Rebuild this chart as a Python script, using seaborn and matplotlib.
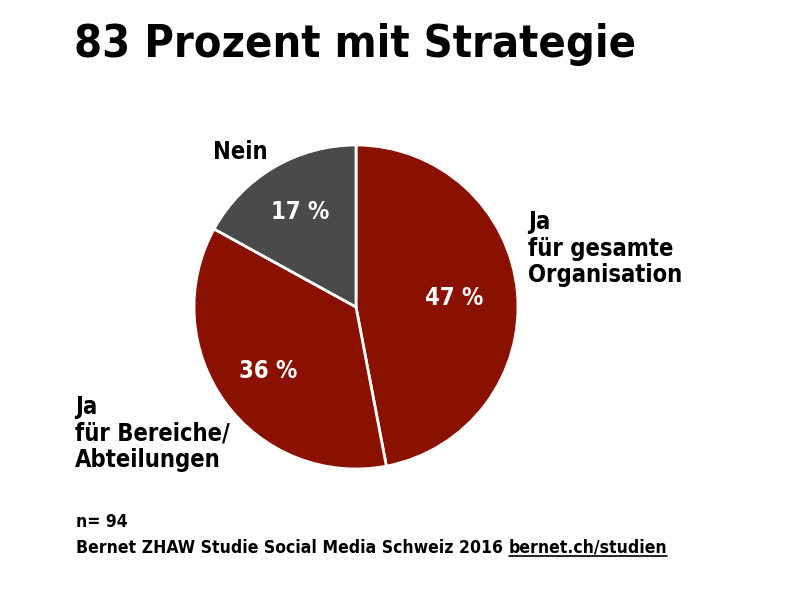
import matplotlib
matplotlib.use("Agg")
import matplotlib.pyplot as plt
import seaborn as sns
import numpy as np
from matplotlib.lines import Line2D

categories = ["Ja\nfür gesamte\nOrganisation", "Ja\nfür Bereiche/\nAbteilungen", "Nein"]
values = [47, 36, 17]
pct_labels = ["47 %", "36 %", "17 %"]
colors = ["#8a1100", "#8a1100", "#4a4a4a"]
title = "83 Prozent mit Strategie"
note = "n= 94"
source = "Bernet ZHAW Studie Social Media Schweiz 2016 "
link = "bernet.ch/studien"

sns.set_theme(style="white")
FONT = ["DejaVu Sans"]
plt.rcParams["font.family"] = FONT
plt.rcParams["font.weight"] = "bold"
plt.rcParams["font.stretch"] = "condensed"

W, H = 800, 597
fig = plt.figure(figsize=(W / 100, H / 100), dpi=100)
fig.patch.set_facecolor("white")

def px(x, y):
    return x / W, 1 - y / H

TK = dict(fontweight="bold", fontstretch="condensed", color="black")

# pie axes: center (356,307), radius 162
ax = fig.add_axes([194 / W, (H - 469) / H, 324 / W, 324 / H])
wedges, _ = ax.pie(values, colors=colors, startangle=90, counterclock=False,
                   wedgeprops=dict(edgecolor="white", linewidth=2), radius=1)
ax.set_xlim(-1, 1)
ax.set_ylim(-1, 1)
ax.set_aspect("equal")
ax.axis("off")

dists = [0.61, 0.67, 0.68]
for w, lab, d in zip(wedges, pct_labels, dists):
    ang = np.deg2rad((w.theta1 + w.theta2) / 2)
    ax.text(d * np.cos(ang), d * np.sin(ang), lab, fontsize=17, ha="center", va="center",
            **{**TK, "color": "white"})

fig.text(*px(74, 57), title, fontsize=32.3, ha="left", va="baseline", **TK)
fig.text(*px(528, 282), categories[0], fontsize=17, ha="left", va="baseline",
         linespacing=1.12, **TK)
fig.text(*px(75, 467), categories[1], fontsize=17, ha="left", va="baseline",
         linespacing=1.12, **TK)
fig.text(*px(213, 159), categories[2], fontsize=17, ha="left", va="baseline", **TK)

fig.text(*px(76, 527), note, fontsize=12.6, ha="left", va="baseline", **TK)
t1 = fig.text(*px(76, 553), source, fontsize=12.6, ha="left", va="baseline", **TK)
fig.canvas.draw()
r = fig.canvas.get_renderer()
bb = t1.get_window_extent(r)
t2 = fig.text(bb.x1 / W, 1 - 553 / H, link, fontsize=12.6, ha="left", va="baseline", **TK)
fig.canvas.draw()
bb2 = t2.get_window_extent(r)
uy = (bb2.y0 + 1) / H
fig.add_artist(Line2D([bb2.x0 / W, bb2.x1 / W], [uy, uy], color="black", linewidth=1.2,
                      transform=fig.transFigure))

fig.savefig("out.png", dpi=100, facecolor="white")
